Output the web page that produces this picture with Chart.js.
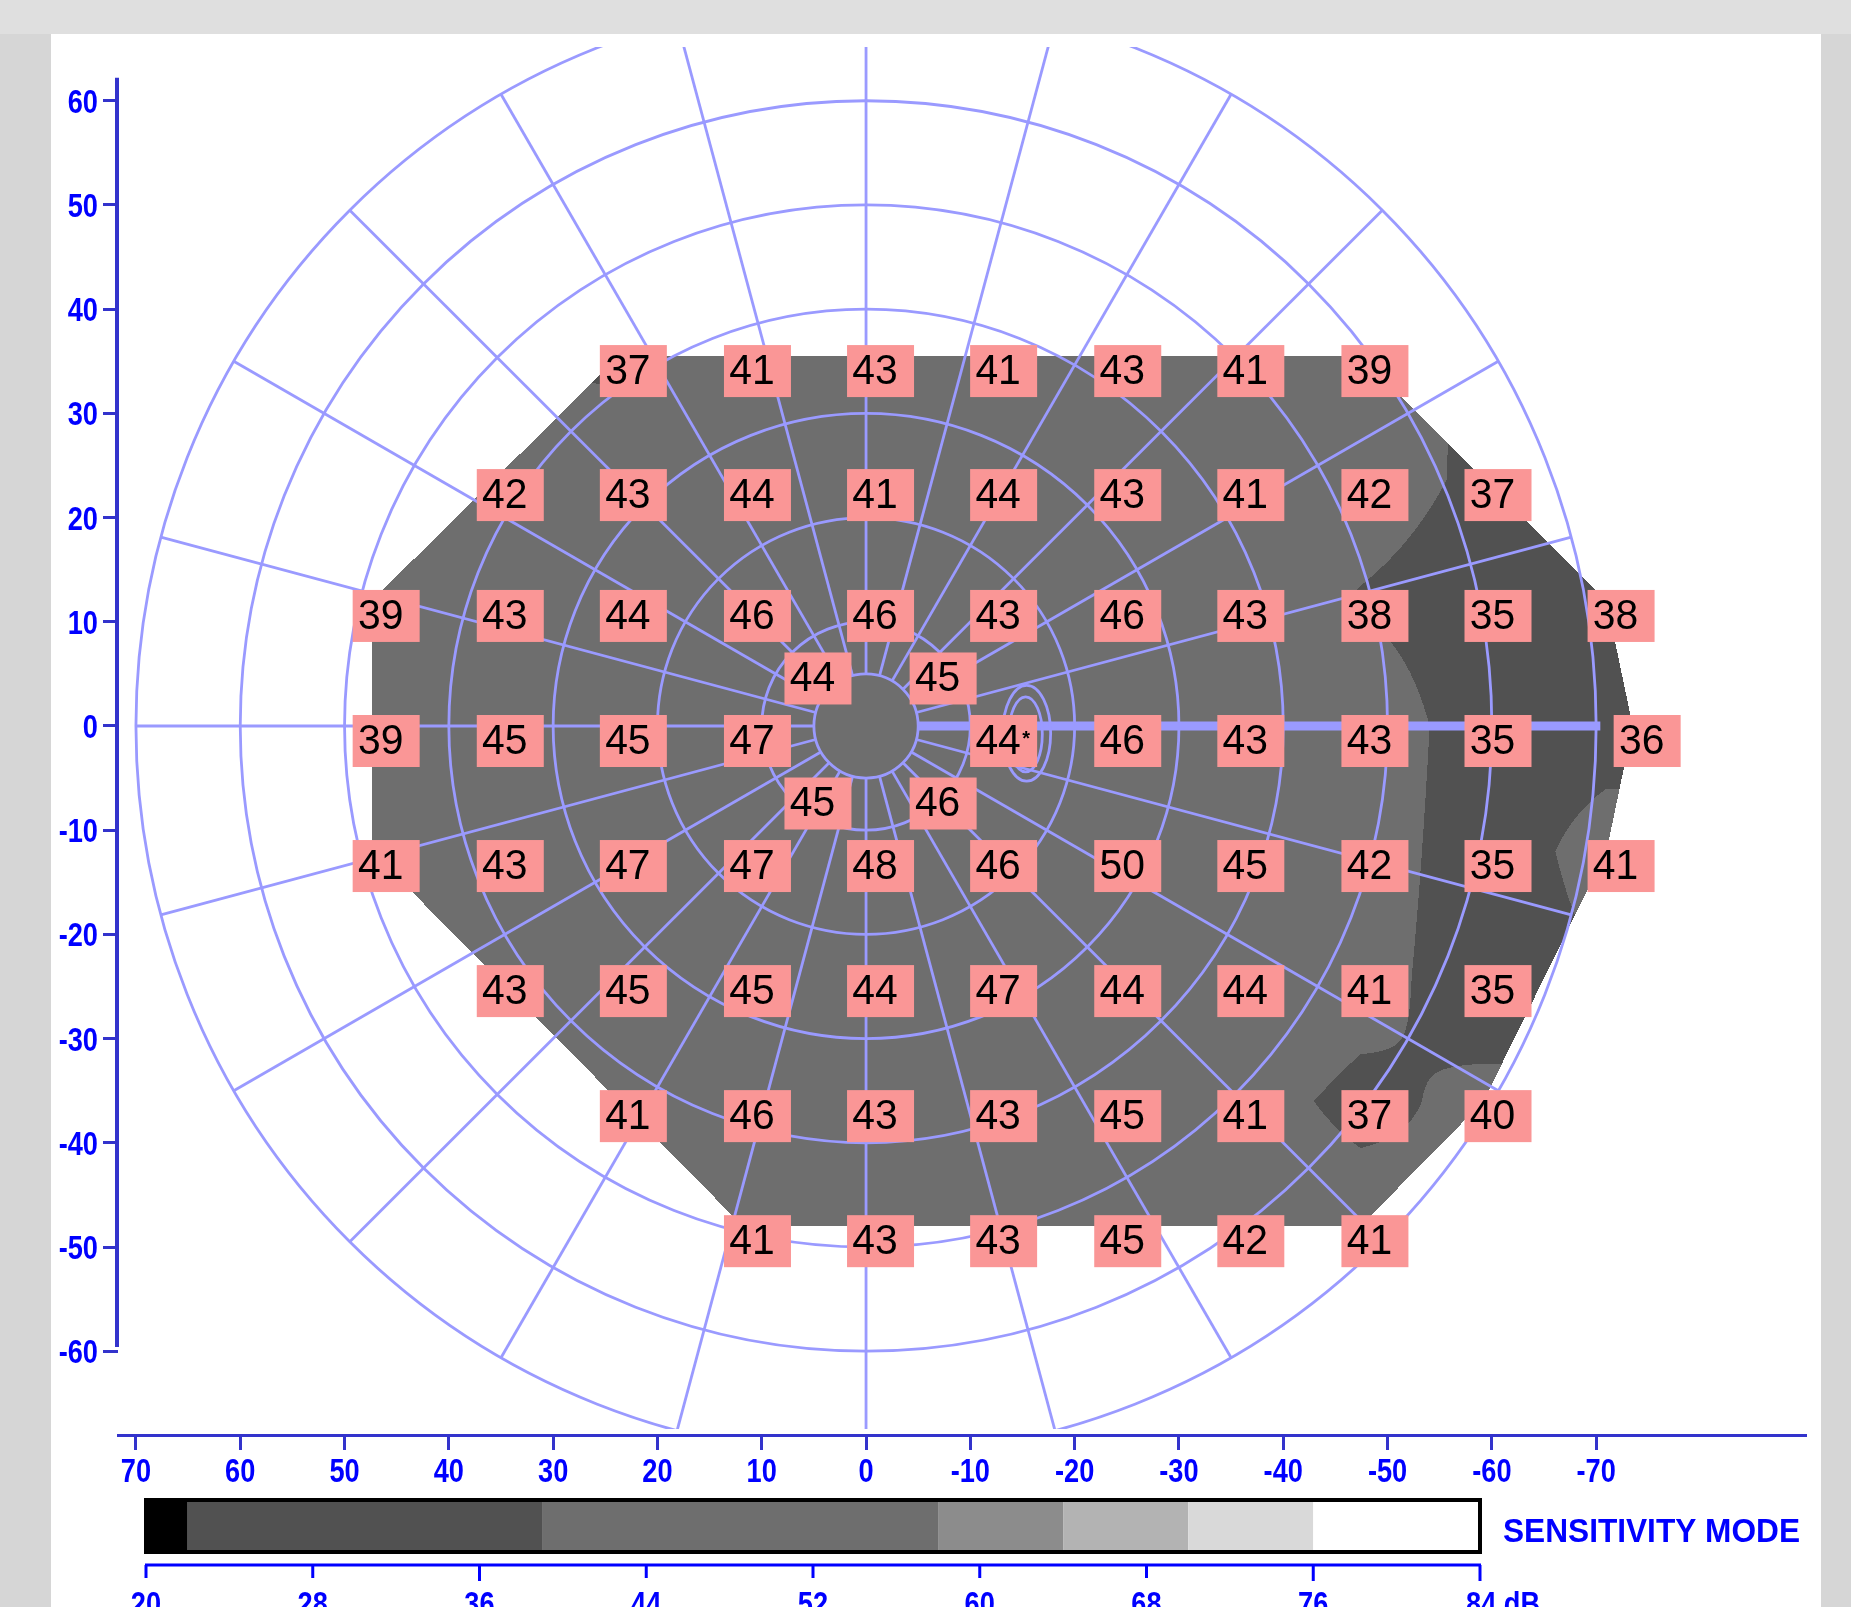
<!DOCTYPE html>
<html>
<head>
<meta charset="utf-8">
<title>Sensitivity mode</title>
<script src="https://cdn.jsdelivr.net/npm/chart.js@4.4.0/dist/chart.umd.min.js"></script>
<style>
  html, body { margin: 0; padding: 0; background: #d6d6d6; }
  #wrap { position: relative; width: 1851px; height: 1607px; }
  #field { display: block; width: 1851px; height: 1607px; }
</style>
</head>
<body>
<div id="wrap"><canvas id="field" width="1851" height="1607"></canvas></div>
<script>
// test point rows (deg), columns
const rowY = [35.5, 23.6, 12, 6, 0, -6, -12, -24, -36, -48];
const rowX = [
  [23.7, 11.8, 0, -11.8, -23.7, -35.5, -47.4],
  [35.5, 23.7, 11.8, 0, -11.8, -23.7, -35.5, -47.4, -59.2],
  [47.4, 35.5, 23.7, 11.8, 0, -11.8, -23.7, -35.5, -47.4, -59.2, -71],
  [6, -6],
  [47.4, 35.5, 23.7, 11.8, -11.8, -23.7, -35.5, -47.4, -59.2, -73.5],
  [6, -6],
  [47.4, 35.5, 23.7, 11.8, 0, -11.8, -23.7, -35.5, -47.4, -59.2, -71],
  [35.5, 23.7, 11.8, 0, -11.8, -23.7, -35.5, -47.4, -59.2],
  [23.7, 11.8, 0, -11.8, -23.7, -35.5, -47.4, -59.2],
  [11.8, 0, -11.8, -23.7, -35.5, -47.4]
];
// sensitivity (dB)
const rowSens = [
  [37, 41, 43, 41, 43, 41, 39],
  [42, 43, 44, 41, 44, 43, 41, 42, 37],
  [39, 43, 44, 46, 46, 43, 46, 43, 38, 35, 38],
  [44, 45],
  [39, 45, 45, 47, 44, 46, 43, 43, 35, 36],
  [45, 46],
  [41, 43, 47, 47, 48, 46, 50, 45, 42, 35, 41],
  [43, 45, 45, 44, 47, 44, 44, 41, 35],
  [41, 46, 43, 43, 45, 41, 37, 40],
  [41, 43, 43, 45, 42, 41]
];
const starPoint = [-11.8, 0];   // point marked with *

// interpolation grid columns / rows
const gridColX = [47.4, 35.5, 23.7, 11.8, 0, -11.8, -23.7, -35.5, -47.4, -59.2, -71];
const gridRowY = [35.5, 23.6, 12, 0, -12, -24, -36, -48];

// axes
const xTicks = [70, 60, 50, 40, 30, 20, 10, 0, -10, -20, -30, -40, -50, -60, -70];
const yTicks = [60, 50, 40, 30, 20, 10, 0, -10, -20, -30, -40, -50, -60];

// polar grid
const ringRadii = [5, 10, 20, 30, 40, 50, 60, 70];
const meridianStep = 15;

// colour scale (dB)
const bandBounds = [20, 22, 39, 58, 64, 70, 76, 84];
const bandColors = ['#000000', '#515151', '#6e6e6e', '#8c8c8c', '#b3b3b3', '#d9d9d9', '#ffffff'];
const dbTicks = [20, 28, 36, 44, 52, 60, 68, 76, 84];
const dbLongTicks = [36, 76, 84];

const points = [];
rowY.forEach((y, r) => rowX[r].forEach((x, c) => points.push({ x: x, y: y, v: rowSens[r][c] })));

// grid lookup for the field fill
const grid = gridRowY.map(() => gridColX.map(() => null));
points.forEach(p => {
  const r = gridRowY.indexOf(p.y);
  if (r < 0) return;
  let best = -1, bd = 3;
  gridColX.forEach((gx, c) => { const d = Math.abs(gx - p.x); if (d < bd) { bd = d; best = c; } });
  if (best >= 0) grid[r][best] = p.v;
});

function seg(arr, v) {
  // arr descending
  if (v >= arr[0]) return [0, 0];
  const n = arr.length;
  if (v <= arr[n - 1]) return [n - 2, 1];
  for (let i = 0; i < n - 1; i++) {
    if (v <= arr[i] && v >= arr[i + 1]) return [i, (arr[i] - v) / (arr[i] - arr[i + 1])];
  }
  return [n - 2, 1];
}

function valueAt(x, y) {
  const [c, fx] = seg(gridColX, x);
  const [r, fy] = seg(gridRowY, y);
  const cs = [[r, c, (1 - fx) * (1 - fy)], [r, c + 1, fx * (1 - fy)], [r + 1, c, (1 - fx) * fy], [r + 1, c + 1, fx * fy]];
  let s = 0, w = 0;
  cs.forEach(([i, j, k]) => { const g = grid[i][j]; if (g !== null && k > 0) { s += g * k; w += k; } });
  if (w === 0) {
    cs.forEach(([i, j]) => { const g = grid[i][j]; if (g !== null) { s += g; w += 1; } });
  }
  return w ? s / w : null;
}

function bandIndex(v) {
  const rv = Math.round(v);
  for (let k = 0; k < bandColors.length; k++) if (rv < bandBounds[k + 1]) return k;
  return bandColors.length - 1;
}

function convexHull(pts) {
  const p = pts.map(q => [q.x, q.y]).sort((a, b) => a[0] - b[0] || a[1] - b[1]);
  const cross = (o, a, b) => (a[0] - o[0]) * (b[1] - o[1]) - (a[1] - o[1]) * (b[0] - o[0]);
  const lo = [], up = [];
  for (const q of p) { while (lo.length >= 2 && cross(lo[lo.length - 2], lo[lo.length - 1], q) <= 0) lo.pop(); lo.push(q); }
  for (let i = p.length - 1; i >= 0; i--) { const q = p[i]; while (up.length >= 2 && cross(up[up.length - 2], up[up.length - 1], q) <= 0) up.pop(); up.push(q); }
  lo.pop(); up.pop();
  return lo.concat(up);
}

const hexRgb = h => [1, 3, 5].map(i => parseInt(h.slice(i, i + 2), 16));

const AXIS_BLUE = '#3333cc';
const TEXT_BLUE = '#0000ff';
const GRID_BLUE = '#9a9aff';
const AXIS_FONT = 'bold 34px "Liberation Sans", Arial, sans-serif';

// narrow blue text like the original bitmap font
function narrowText(ctx, text, x, y, squeeze) {
  const w = ctx.measureText(text).width;
  ctx.fillText(text, x, y, w * (squeeze || 0.8));
}

const fieldPlugin = {
  id: 'field',
  beforeDraw(chart) {
    const ctx = chart.ctx;
    ctx.save();
    ctx.fillStyle = '#d6d6d6';
    ctx.fillRect(0, 0, chart.width, chart.height);
    ctx.fillStyle = '#dfdfdf';
    ctx.fillRect(0, 0, chart.width, 34);
    ctx.fillStyle = '#ffffff';
    ctx.fillRect(51, 34, 1770, chart.height - 34);
    ctx.restore();
  },
  beforeDatasetsDraw(chart) {
    const ctx = chart.ctx, xs = chart.scales.x, ys = chart.scales.y, area = chart.chartArea;
    // grey field inside the hull of the test points
    const hull = convexHull(points).map(([x, y]) => [xs.getPixelForValue(x), ys.getPixelForValue(y)]);
    const bx = Math.floor(Math.min(...hull.map(h => h[0]))), by = Math.floor(Math.min(...hull.map(h => h[1])));
    const bw = Math.ceil(Math.max(...hull.map(h => h[0]))) - bx + 1, bh = Math.ceil(Math.max(...hull.map(h => h[1]))) - by + 1;
    const off = document.createElement('canvas');
    off.width = bw; off.height = bh;
    const octx = off.getContext('2d');
    const img = octx.createImageData(bw, bh);
    const rgb = bandColors.map(hexRgb);
    const n = hull.length;
    for (let j = 0; j < bh; j++) {
      const py = by + j + 0.5;
      const dy = ys.getValueForPixel(py);
      for (let i = 0; i < bw; i++) {
        const px = bx + i + 0.5;
        let pos = false, neg = false;
        for (let k = 0; k < n; k++) {
          const a = hull[k], b = hull[(k + 1) % n];
          const c = (b[0] - a[0]) * (py - a[1]) - (b[1] - a[1]) * (px - a[0]);
          if (c > 0) pos = true; else if (c < 0) neg = true;
        }
        if (pos && neg) continue;
        const v = valueAt(xs.getValueForPixel(px), dy);
        if (v === null) continue;
        const col = rgb[bandIndex(v)];
        const o = (j * bw + i) * 4;
        img.data[o] = col[0]; img.data[o + 1] = col[1]; img.data[o + 2] = col[2]; img.data[o + 3] = 255;
      }
    }
    octx.putImageData(img, 0, 0);
    ctx.drawImage(off, bx, by);

    // polar grid
    const cx = xs.getPixelForValue(0), cy = ys.getPixelForValue(0);
    const P = (x, y) => [xs.getPixelForValue(x), ys.getPixelForValue(y)];
    ctx.save();
    ctx.beginPath();
    ctx.rect(area.left, area.top, area.right - area.left, area.bottom - 6 - area.top);
    ctx.clip();
    ctx.strokeStyle = GRID_BLUE;
    ctx.lineWidth = 2.8;
    ringRadii.forEach(r => {
      ctx.beginPath();
      ctx.ellipse(cx, cy, Math.abs(P(r, 0)[0] - cx), Math.abs(P(0, r)[1] - cy), 0, 0, Math.PI * 2);
      ctx.stroke();
    });
    const rIn = ringRadii[0], rOut = ringRadii[ringRadii.length - 1];
    for (let a = 0; a < 360; a += meridianStep) {
      const t = a * Math.PI / 180;
      const p0 = P(rIn * Math.cos(t), rIn * Math.sin(t));
      const p1 = P(rOut * Math.cos(t), rOut * Math.sin(t));
      ctx.beginPath(); ctx.moveTo(p0[0], p0[1]); ctx.lineTo(p1[0], p1[1]); ctx.stroke();
    }
    // heavy line towards the blind spot side
    ctx.lineWidth = 9;
    let p0 = P(-rIn, 0), p1 = P(-70.4, 0);
    ctx.beginPath(); ctx.moveTo(p0[0], p0[1]); ctx.lineTo(p1[0], p1[1]); ctx.stroke();
    // blind spot outline
    ctx.lineWidth = 2.8;
    [[-15.4, -0.7, 2.3, 4.6], [-15.3, -0.8, 1.6, 3.6]].forEach(([ex, ey, rx, ry]) => {
      const c = P(ex, ey);
      ctx.beginPath();
      ctx.ellipse(c[0], c[1], Math.abs(P(ex + rx, 0)[0] - c[0]), Math.abs(P(0, ey + ry)[1] - c[1]), 0, 0, Math.PI * 2);
      ctx.stroke();
    });
    ctx.restore();
  },
  afterDatasetsDraw(chart) {
    const ctx = chart.ctx;
    const meta = chart.getDatasetMeta(0);
    ctx.save();
    ctx.textAlign = 'center';
    ctx.textBaseline = 'middle';
    meta.data.forEach((el, i) => {
      const p = points[i];
      const bx = el.x + 14, by = el.y + 15;
      ctx.fillStyle = '#fa9696';
      ctx.fillRect(bx - 33, by - 26, 67, 52);
      ctx.fillStyle = '#000000';
      ctx.font = '43px "Liberation Sans", Arial, sans-serif';
      narrowText(ctx, String(p.v), bx - 5, by + 1, 0.95);
      if (p.x === starPoint[0] && p.y === starPoint[1]) {
        ctx.font = 'bold 20px "Liberation Sans", Arial, sans-serif';
        ctx.fillText('*', bx + 23, by - 2);
      }
    });
    ctx.restore();
  },
  afterDraw(chart) {
    const ctx = chart.ctx, xs = chart.scales.x, ys = chart.scales.y, area = chart.chartArea;
    ctx.save();
    // vertical axis line
    ctx.strokeStyle = AXIS_BLUE;
    ctx.lineWidth = 4;
    ctx.beginPath();
    ctx.moveTo(area.left - 1, ys.getPixelForValue(62.2));
    ctx.lineTo(area.left - 1, ys.getPixelForValue(-59.6));
    ctx.stroke();

    // tick labels of both axes
    ctx.fillStyle = TEXT_BLUE;
    ctx.font = AXIS_FONT;
    ctx.textBaseline = 'alphabetic';
    ctx.textAlign = 'center';
    xs.ticks.forEach(t => narrowText(ctx, String(t.value), xs.getPixelForValue(t.value), area.bottom + 47));
    ctx.textAlign = 'right';
    ys.ticks.forEach(t => narrowText(ctx, String(t.value), area.left - 20, ys.getPixelForValue(t.value) + 12));

    // colour bar
    const L = 146, R = 1480, T = 1500, B = 1552, AY = 1565;
    const dbX = v => L + (v - bandBounds[0]) / (bandBounds[bandBounds.length - 1] - bandBounds[0]) * (R - L);
    bandColors.forEach((c, k) => {
      ctx.fillStyle = c;
      ctx.fillRect(dbX(bandBounds[k]), T, dbX(bandBounds[k + 1]) - dbX(bandBounds[k]), B - T);
    });
    ctx.strokeStyle = '#000000';
    ctx.lineWidth = 4;
    ctx.strokeRect(L, T, R - L, B - T);
    ctx.strokeStyle = TEXT_BLUE;
    ctx.lineWidth = 3;
    ctx.beginPath(); ctx.moveTo(L - 1, AY); ctx.lineTo(R + 1, AY); ctx.stroke();
    ctx.fillStyle = TEXT_BLUE;
    ctx.font = AXIS_FONT;
    ctx.textBaseline = 'alphabetic';
    dbTicks.forEach((v, k) => {
      const x = dbX(v);
      const last = k === dbTicks.length - 1;
      ctx.beginPath(); ctx.moveTo(x, AY); ctx.lineTo(x, AY + (dbLongTicks.includes(v) ? 16 : 13)); ctx.stroke();
      ctx.textAlign = last ? 'left' : 'center';
      narrowText(ctx, last ? v + ' dB' : String(v), last ? x - 14 : x, 1615);
    });
    ctx.textAlign = 'left';
    ctx.font = 'bold 34px "Liberation Sans", Arial, sans-serif';
    const label = 'SENSITIVITY MODE';
    ctx.fillText(label, 1503, 1542, 297);
    ctx.restore();
  }
};

new Chart(document.getElementById('field'), {
  type: 'scatter',
  data: {
    datasets: [{
      data: points.map(p => ({ x: p.x, y: p.y })),
      pointRadius: 0,
      pointHoverRadius: 0
    }]
  },
  options: {
    responsive: false,
    animation: false,
    events: [],
    layout: { padding: { left: 0, top: 47, right: 45, bottom: 0 } },
    scales: {
      x: {
        type: 'linear',
        reverse: true,
        min: -90.12,
        max: 71.72,
        afterBuildTicks: s => { s.ticks = xTicks.map(v => ({ value: v })); },
        afterFit: s => { s.height = 172; },
        border: { display: true, color: AXIS_BLUE, width: 3 },
        grid: { display: true, drawOnChartArea: false, drawTicks: true, tickLength: 15, tickWidth: 3, tickColor: AXIS_BLUE },
        ticks: { display: false }
      },
      y: {
        type: 'linear',
        min: -68.04,
        max: 65.16,
        afterBuildTicks: s => { s.ticks = yTicks.map(v => ({ value: v })); },
        afterFit: s => { s.width = 118; },
        border: { display: false },
        grid: { display: true, drawOnChartArea: false, drawTicks: true, tickLength: 15, tickWidth: 3, tickColor: AXIS_BLUE },
        ticks: { display: false }
      }
    },
    plugins: {
      legend: { display: false },
      tooltip: { enabled: false }
    }
  },
  plugins: [fieldPlugin]
});
</script>
</body>
</html>
